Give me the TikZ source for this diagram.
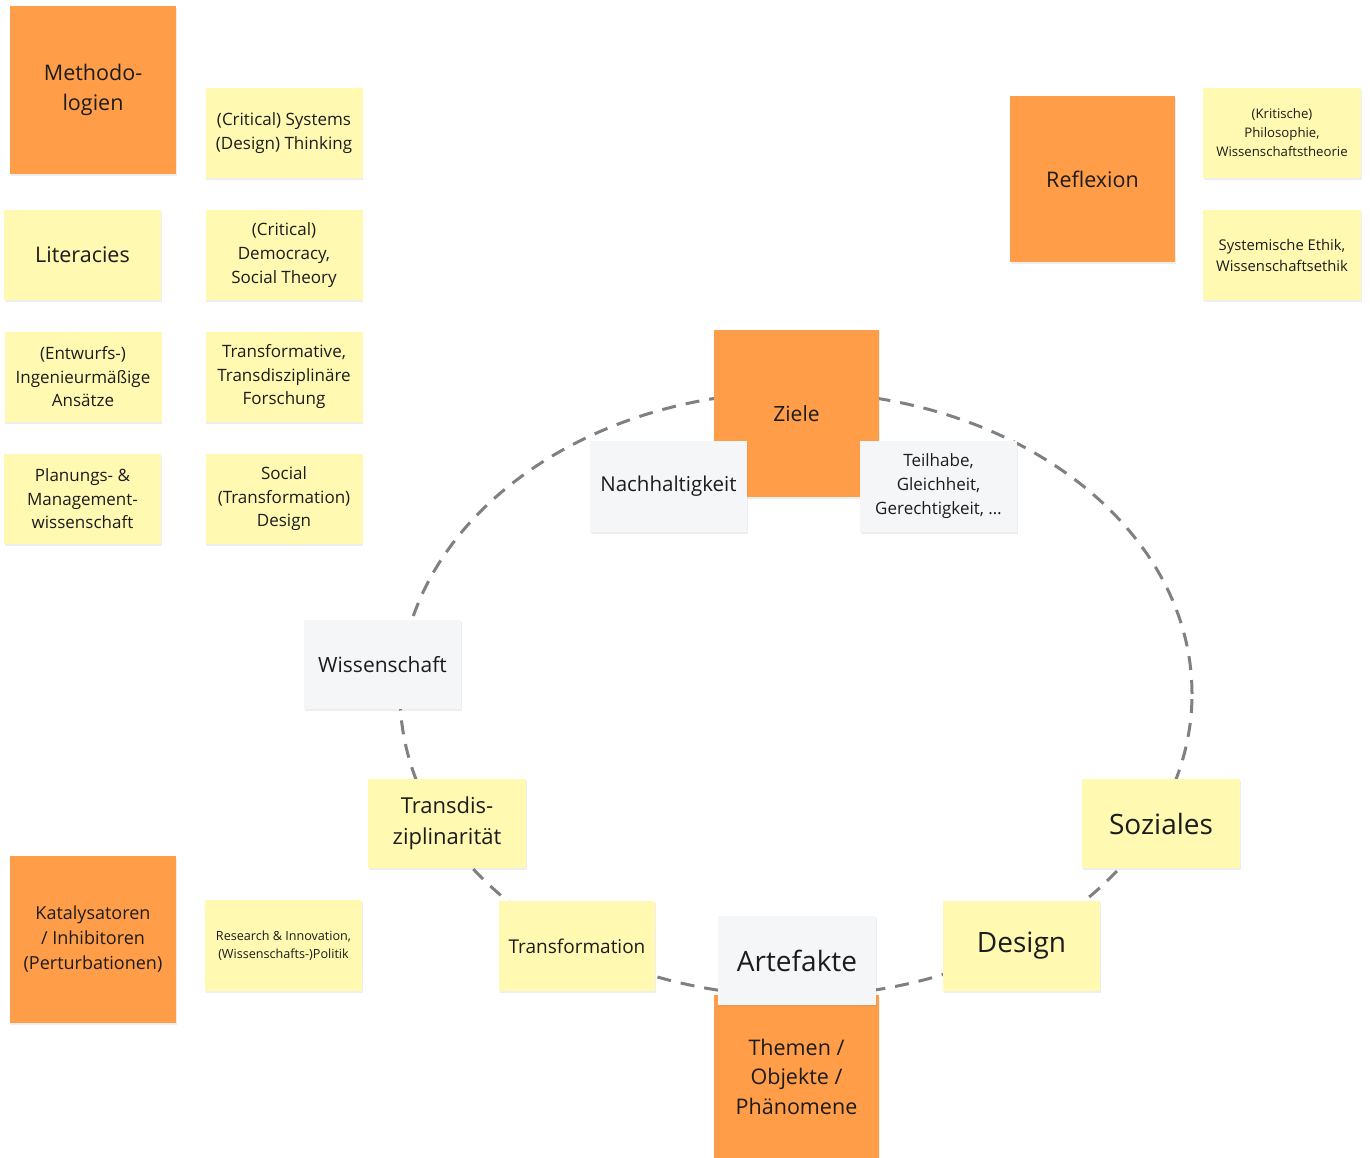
\documentclass[tikz,border=0pt]{standalone}
\usepackage{fontspec}
\setmainfont{Open Sans}
\usetikzlibrary{shadows}
\definecolor{stickyorange}{HTML}{FF9D48}
\definecolor{stickyyellow}{HTML}{FFF9B1}
\definecolor{stickygray}{HTML}{F5F6F8}
\definecolor{inktext}{HTML}{1C1C1C}
\definecolor{ringgray}{HTML}{808080}
\tikzset{
  sticky/.style={rectangle, inner sep=0pt, align=center, text=inktext,
    drop shadow={opacity=0.13, shadow xshift=0.6pt, shadow yshift=-2.2pt}},
  orangebox/.style={sticky, fill=stickyorange, minimum width=166pt, minimum height=167pt},
  yellowbox/.style={sticky, fill=stickyyellow, minimum width=157pt, minimum height=90pt},
  graybox/.style={sticky, fill=stickygray, minimum width=157pt, minimum height=90pt},
  fs/.style 2 args={font=\fontsize{#1}{#2}\selectfont},
  ring/.style={draw=ringgray, line width=3pt, dash pattern=on 14pt off 10pt},
}
\begin{document}
\begin{tikzpicture}[x=1pt, y=-1pt]
\useasboundingbox[fill=white] (0,0) rectangle (1370,1158);

% dashed ring
\draw[ring] (796,694) ellipse [x radius=396pt, y radius=302pt];

% left column
\node[orangebox, fs={21.5}{30}, minimum height=168pt] (meth) at (93,90) {Methodo-\\logien};
\node[yellowbox, fs={17}{24}] (sysdes) at (284,133) {(Critical) Systems\\(Design) Thinking};
\node[yellowbox, fs={21.5}{30}] (lit) at (82.5,255) {Literacies};
\node[yellowbox, fs={17}{24}] (demo) at (284,255) {(Critical)\\Democracy,\\Social Theory};
\node[yellowbox, fs={17}{23.5}] (entw) at (83,377) {(Entwurfs-)\\Ingenieurmäßige\\Ansätze};
\node[yellowbox, fs={17}{23.5}] (trfo) at (284,377) {Transformative,\\Transdisziplinäre\\Forschung};
\node[yellowbox, fs={17}{23.5}] (plan) at (82.5,499) {Planungs- \&\\Management-\\wissenschaft};
\node[yellowbox, fs={17}{23.5}] (socd) at (284,499) {Social\\(Transformation)\\Design};

% right top
\node[orangebox, fs={21.5}{30}, minimum width=165pt, minimum height=166pt] (refl) at (1092.5,179) {Reflexion};
\node[yellowbox, fs={13.2}{19}, minimum width=158pt] (philo) at (1282,133) {(Kritische)\\Philosophie,\\Wissenschaftstheorie};
\node[yellowbox, fs={14.8}{21}, minimum width=158pt] (ethik) at (1282,255) {Systemische Ethik,\\Wissenschaftsethik};

% bottom left
\node[orangebox, fs={18}{25}] (kat) at (93,939.5) {Katalysatoren\\/ Inhibitoren\\(Perturbationen)};
\node[yellowbox, fs={12.6}{18}, minimum height=91pt] (resinn) at (283.5,945.5) {Research \& Innovation,\\(Wissenschafts-)Politik};

% ring nodes
\node[orangebox, fs={21}{30}, minimum width=165pt] (ziele) at (796.5,413.5) {Ziele};
\node[graybox, fs={20.5}{28}, minimum height=91pt] (nachh) at (668.5,486.5) {Nachhaltigkeit};
\node[graybox, fs={17}{24}, minimum height=91pt] (teil) at (938.5,486.5) {Teilhabe,\\Gleichheit,\\Gerechtigkeit, …};
\node[graybox, fs={21}{28}, minimum height=89pt] (wiss) at (382.5,664.5) {Wissenschaft};
\node[yellowbox, fs={22}{31}, minimum width=158pt, minimum height=89pt] (tdis) at (447,823.5) {Transdis-\\ziplinarität};
\node[yellowbox, fs={28}{34}, minimum width=158pt, minimum height=89pt] (soz) at (1161,823.5) {Soziales};
\node[yellowbox, fs={19}{26}, minimum width=156pt] (trafo) at (577,946) {Transformation};
\node[yellowbox, fs={28}{34}] (design) at (1021.5,946) {Design};
\node[orangebox, fs={21.5}{29.5}, minimum width=165pt, minimum height=163pt] (themen) at (796.5,1076.5) {Themen /\\Objekte /\\Phänomene};
\node[graybox, fs={28}{34}, minimum width=158pt, minimum height=89pt] (artef) at (797,960.5) {Artefakte};
\end{tikzpicture}
\end{document}
